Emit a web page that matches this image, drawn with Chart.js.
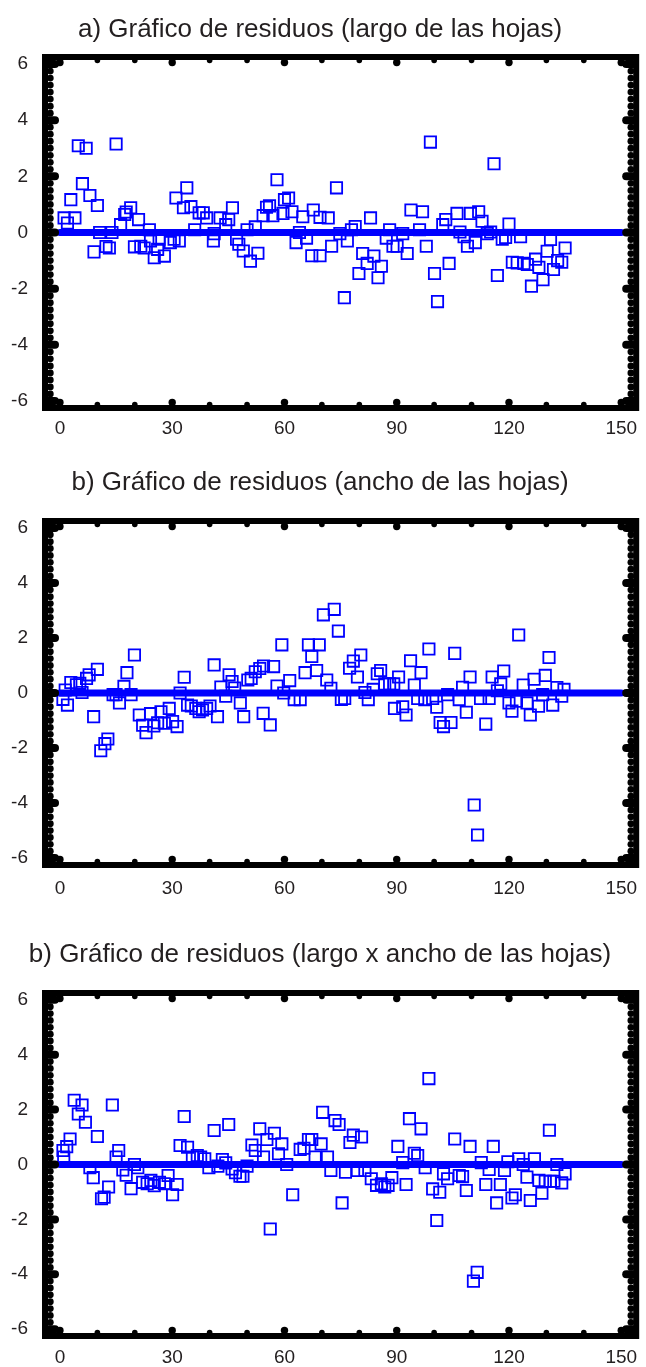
<!DOCTYPE html>
<html>
<head>
<meta charset="utf-8">
<script src="https://cdn.jsdelivr.net/npm/chart.js@4"></script>
<style>
  body { margin: 0; background: #fff; }
  canvas { position: absolute; left: 0; }
</style>
</head>
<body>
<canvas id="c1" width="646" height="445" style="top:0px"></canvas>
<canvas id="c2" width="646" height="460" style="top:440px"></canvas>
<canvas id="c3" width="646" height="467" style="top:900px"></canvas>
<script>
// axis ticks
const xTicks = [0, 30, 60, 90, 120, 150];
const yTicks = [-6, -4, -2, 0, 2, 4, 6];
const zeroLineX = [0, 150];

const titleA = 'a) Gráfico de residuos (largo de las hojas)';
const titleB = 'b) Gráfico de residuos (ancho de las hojas)';
const titleC = 'b) Gráfico de residuos (largo x ancho de las hojas)';

// residuals, largo
const xA = [1.1, 2.0, 2.9, 4.0, 4.9, 6.0, 7.0, 8.0, 9.1, 10.0, 10.6, 12.3, 13.2, 13.9, 15.0, 16.2, 17.3, 17.7, 18.9, 19.9,
  21.0, 21.6, 22.5, 23.9, 24.2, 25.2, 26.1, 26.5, 27.9, 29.5, 30.5, 31.0, 31.9, 33.0, 33.9, 35.0, 36.0, 37.2, 38.3, 39.2,
  41.0, 41.2, 42.8, 44.3, 45.1, 46.1, 47.2, 47.8, 49.0, 50.0, 50.9, 52.2, 52.9, 54.3, 55.2, 56.0, 56.9, 58.0, 59.6, 60.0,
  61.1, 62.0, 63.1, 64.0, 64.9, 65.9, 67.3, 67.7, 69.5, 69.5, 71.7, 72.6, 73.9, 74.8, 76.0, 76.8, 77.9, 78.9, 79.9, 80.9,
  82.1, 83.0, 83.9, 85.0, 85.9, 87.2, 88.1, 89.0, 90.1, 91.6, 92.8, 93.8, 96.1, 96.9, 97.9, 99.0, 100.1, 100.9, 102.3, 103.1,
  104.0, 106.1, 106.9, 108.0, 108.9, 109.7, 111.0, 111.9, 112.8, 114.2, 115.1, 116.0, 116.9, 118.2, 119.1, 120.0, 120.9, 122.2, 123.1, 124.0,
  124.9, 126.0, 127.1, 128.0, 129.1, 130.2, 131.1, 131.9, 133.0, 134.1, 135.0];
const yA = [0.52, 0.34, 1.17, 0.52, 3.09, 1.74, 3.0, 1.32, -0.69, 0.96, 0.0, -0.5, -0.55, 0.0, 3.15, 0.28, 0.64, 0.73, 0.88, -0.51,
  0.46, -0.49, -0.55, 0.1, -0.3, -0.9, -0.6, -0.24, -0.84, -0.36, -0.24, 1.23, -0.3, 0.88, 1.59, 0.92, 0.1, 0.7, 0.7, 0.52,
  -0.3, -0.04, 0.52, 0.28, 0.46, 0.88, -0.24, -0.42, -0.66, 0.1, -1.02, 0.2, -0.74, 0.6, 0.9, 0.95, 0.6, 1.88, 0.68, 1.17,
  1.23, 0.74, -0.36, 0.0, 0.56, -0.2, -0.83, 0.8, 0.54, -0.83, 0.52, -0.49, 1.59, -0.04, -2.32, -0.3, 0.1, 0.21, -1.46, -0.75,
  -1.1, 0.52, -0.84, -1.61, -1.2, -0.2, 0.1, -0.49, -0.49, -0.04, -0.75, 0.8, 0.1, 0.74, -0.49, 3.22, -1.46, -2.46, 0.28, 0.46,
  -1.1, 0.68, 0.02, -0.15, -0.49, 0.68, -0.36, 0.74, 0.4, -0.04, 0.02, 2.45, -1.53, -0.24, -0.18, 0.3, -1.06, -1.08, -0.15, -1.1,
  -1.14, -1.91, -0.95, -1.24, -1.68, -0.67, -0.25, -1.32, -1.0, -1.06, -0.55];

// residuals, ancho
const xB = [0.8, 1.4, 2.0, 2.9, 4.4, 5.3, 5.9, 7.1, 7.8, 9.0, 10.0, 10.9, 12.0, 12.8, 14.2, 15.0, 15.9, 17.1, 17.9, 19.0,
  19.9, 21.2, 22.1, 23.0, 24.2, 25.1, 26.1, 27.0, 27.9, 29.2, 30.1, 31.3, 32.1, 33.2, 34.1, 35.1, 36.3, 37.2, 38.1, 39.2,
  40.1, 41.2, 42.1, 43.0, 44.3, 45.2, 46.0, 46.7, 48.2, 49.1, 50.2, 51.1, 52.2, 53.4, 54.3, 54.4, 56.2, 57.1, 58.0, 59.3,
  59.8, 61.4, 62.6, 64.2, 65.5, 66.4, 67.3, 68.6, 69.3, 70.4, 71.3, 72.4, 73.3, 74.4, 75.2, 76.1, 77.4, 78.4, 79.5, 80.4,
  81.5, 82.4, 83.7, 84.8, 85.7, 86.8, 88.1, 89.2, 89.4, 90.5, 91.6, 92.5, 93.7, 94.7, 95.6, 96.5, 97.5, 98.6, 99.6, 100.7,
  101.6, 102.5, 103.6, 104.5, 105.5, 106.7, 107.6, 108.6, 109.6, 110.7, 111.6, 112.4, 113.8, 114.7, 115.5, 116.9, 117.8, 118.6, 120.0, 120.8,
  122.0, 122.6, 123.8, 124.8, 125.7, 126.7, 127.9, 129.0, 129.7, 130.7, 131.7, 132.8, 134.1, 134.7];
const yB = [-0.23, 0.11, -0.44, 0.38, 0.3, 0.35, 0.02, 0.53, 0.66, -0.86, 0.86, -2.1, -1.84, -1.67, -0.06, -0.06, -0.36, 0.24, 0.74, -0.06,
  1.38, -0.8, -1.17, -1.44, -0.75, -1.2, -1.08, -0.68, -1.1, -0.56, -1.04, -1.22, 0.0, 0.57, -0.44, -0.47, -0.56, -0.68, -0.62, -0.56,
  -0.47, 1.02, -0.86, 0.22, -0.12, 0.66, 0.42, 0.18, -0.36, -0.86, 0.47, 0.53, 0.77, 0.89, -0.74, 0.98, -1.16, 0.96, 0.25, 1.75,
  0.0, 0.45, -0.24, -0.24, 0.74, 1.75, 1.33, 0.82, 1.75, 2.84, 0.47, 0.17, 3.04, 2.25, -0.23, -0.2, 0.9, 1.16, 0.58, 1.38,
  0.02, -0.24, 0.13, 0.7, 0.82, 0.33, 0.33, 0.33, -0.56, 0.58, -0.5, -0.8, 1.17, 0.29, -0.2, 0.74, -0.24, 1.6, -0.2, -0.52,
  -1.07, -1.22, -0.06, -1.07, 1.44, -0.24, 0.21, -0.7, 0.58, -4.07, -5.16, -0.2, -1.13, -0.2, 0.58, 0.08, 0.33, 0.8, -0.36, -0.66,
  -0.3, 2.11, 0.29, -0.36, -0.8, 0.5, -0.48, -0.06, 0.64, 1.29, -0.44, 0.2, -0.12, 0.13];

// residuals, largo x ancho
const xC = [0.8, 1.0, 1.8, 2.7, 3.8, 4.9, 5.9, 6.8, 8.0, 8.9, 10.0, 11.1, 11.8, 13.0, 14.0, 15.0, 15.7, 16.8, 17.7, 19.0,
  19.9, 20.8, 22.1, 23.3, 24.3, 25.2, 26.6, 27.9, 28.9, 30.1, 31.3, 32.1, 33.2, 34.1, 35.4, 36.7, 37.6, 38.7, 39.8, 41.2,
  42.2, 43.4, 44.3, 45.1, 46.0, 46.9, 48.1, 48.9, 50.0, 51.3, 52.2, 53.4, 54.4, 55.3, 56.2, 57.3, 58.4, 59.3, 60.6, 62.2,
  64.2, 65.2, 66.4, 67.3, 68.2, 69.8, 70.2, 71.5, 72.4, 73.5, 74.6, 75.4, 76.3, 77.5, 78.4, 79.5, 80.6, 81.5, 83.2, 84.6,
  85.9, 86.8, 87.7, 88.7, 90.3, 91.6, 92.5, 93.4, 94.7, 95.6, 96.5, 97.6, 98.6, 99.6, 100.7, 101.5, 102.5, 103.6, 105.5, 106.7,
  107.6, 108.6, 109.6, 110.5, 111.5, 112.6, 113.8, 114.7, 115.8, 116.7, 117.7, 118.8, 119.7, 120.8, 121.7, 122.6, 123.8, 124.8, 125.7, 126.8,
  128.0, 128.8, 129.7, 130.8, 131.0, 132.0, 132.8, 134.1, 135.0];
const yC = [0.51, 0.27, 0.65, 0.93, 2.34, 1.84, 2.17, 1.54, -0.12, -0.48, 1.02, -1.25, -1.19, -0.82, 2.17, 0.27, 0.51, -0.2, -0.39, -0.88,
  0.0, -0.12, -0.65, -0.7, -0.58, -0.77, -0.65, -0.7, -0.4, -1.1, -0.73, 0.69, 1.75, 0.63, 0.27, 0.33, 0.27, 0.21, -0.12, 1.24,
  -0.06, 0.18, 0.06, 1.46, -0.16, -0.3, -0.43, -0.43, -0.06, 0.71, 0.51, 1.3, 0.27, 0.91, -2.35, 1.14, 0.39, 0.75, 0.0, -1.1,
  0.55, 0.59, 0.91, 0.91, 0.27, 0.75, 1.9, 0.27, -0.22, 1.6, 1.46, -1.4, -0.28, 0.8, 1.07, -0.22, 1.0, -0.22, -0.52, -0.76,
  -0.7, -0.82, -0.76, -0.48, 0.66, 0.07, -0.73, 1.67, 0.41, 0.33, 1.3, -0.12, 3.13, -0.89, -2.04, -1.01, -0.34, -0.52, 0.93, -0.4,
  -0.44, -0.95, 0.66, -4.25, -3.93, 0.07, -0.73, -0.18, 0.66, -1.4, -0.73, -0.22, 0.1, -1.22, -1.1, 0.21, 0.0, -0.46, -1.31, 0.21,
  -0.58, -1.05, -0.61, 1.25, -0.61, -0.61, 0.0, -0.67, -0.34];

const FONT = "'Liberation Sans', Arial, sans-serif";
const BLUE = '#0000ff';
const TEXT = '#231f20';

// thick black frame with the little round tick marks inside it
const framePlugin = {
  id: 'frame',
  afterDatasetsDraw(chart) {
    const { ctx, chartArea: a, scales: { x, y } } = chart;
    ctx.save();
    ctx.fillStyle = '#000';
    ctx.strokeStyle = '#000';
    ctx.lineWidth = 6;
    ctx.strokeRect(a.left, a.top, a.right - a.left, a.bottom - a.top);

    function dot(cx, cy, r) {
      ctx.beginPath();
      ctx.arc(cx, cy, r, 0, Math.PI * 2);
      ctx.fill();
    }
    function bar(x1, y1, x2, y2) {
      ctx.beginPath();
      ctx.lineCap = 'round';
      ctx.lineWidth = 8;
      ctx.moveTo(x1, y1);
      ctx.lineTo(x2, y2);
      ctx.stroke();
    }

    for (let v = 0; v <= 150; v += 10) {
      const px = x.getPixelForValue(v);
      if (v % 30 === 0) {
        dot(px, a.top + 5.5, 3.7);
        dot(px, a.bottom - 5.5, 3.7);
      } else {
        dot(px, a.top + 3.5, 2.8);
        dot(px, a.bottom - 3.5, 2.8);
      }
    }
    for (let i = -24; i <= 24; i++) {
      const py = y.getPixelForValue(i / 4);
      if (i % 8 === 0) {
        bar(a.left + 3, py, a.left + 10, py);
        bar(a.right - 3, py, a.right - 10, py);
      } else {
        dot(a.left + 5.3, py, 3.4);
        dot(a.right - 5.3, py, 3.4);
      }
    }
    ctx.restore();
  }
};

function makeChart(id, title, xs, ys, lay) {
  const pts = xs.map((v, i) => ({ x: v, y: ys[i] }));
  new Chart(document.getElementById(id), {
    type: 'scatter',
    data: {
      datasets: [
        {
          data: zeroLineX.map(v => ({ x: v, y: 0 })),
          showLine: true,
          borderColor: BLUE,
          borderWidth: 7,
          borderCapStyle: 'round',
          pointRadius: 0
        },
        {
          data: pts,
          pointStyle: 'rect',
          pointRadius: 8,
          pointBorderWidth: 1.8,
          borderColor: BLUE,
          backgroundColor: 'rgba(0,0,0,0)'
        }
      ]
    },
    options: {
      responsive: false,
      animation: false,
      devicePixelRatio: 1,
      layout: { padding: { left: 0, right: 6, top: 0, bottom: 0 } },
      plugins: {
        legend: { display: false },
        tooltip: { enabled: false },
        title: {
          display: true,
          text: title,
          color: TEXT,
          font: { family: FONT, size: 26, weight: 'normal', lineHeight: 1.2 },
          padding: { top: lay.tTop, bottom: lay.tBot }
        }
      },
      scales: {
        x: {
          type: 'linear',
          min: -4,
          max: 154,
          grid: { display: false, drawTicks: false },
          border: { display: false },
          ticks: { color: TEXT, font: { family: FONT, size: 19 }, padding: lay.xPad },
          afterBuildTicks: s => { s.ticks = xTicks.map(v => ({ value: v })); },
          afterFit: s => { s.height = lay.xh; s.paddingLeft = 0; s.paddingRight = 0; }
        },
        y: {
          min: -6.25,
          max: 6.25,
          grid: { display: false, drawTicks: false },
          border: { display: false },
          ticks: { color: TEXT, font: { family: FONT, size: 19 }, padding: 17 },
          afterBuildTicks: s => { s.ticks = yTicks.map(v => ({ value: v })); },
          afterFit: s => { s.width = 45; s.paddingTop = 0; s.paddingBottom = 0; }
        }
      }
    },
    plugins: [framePlugin]
  });
}

makeChart('c1', titleA, xA, yA, { tTop: 14.4, tBot: 11.4, xh: 37, xPad: 9 });
makeChart('c2', titleB, xB, yB, { tTop: 27.4, tBot: 22.4, xh: 35, xPad: 12 });
makeChart('c3', titleC, xC, yC, { tTop: 39.4, tBot: 22.4, xh: 31, xPad: 10 });
</script>
</body>
</html>
